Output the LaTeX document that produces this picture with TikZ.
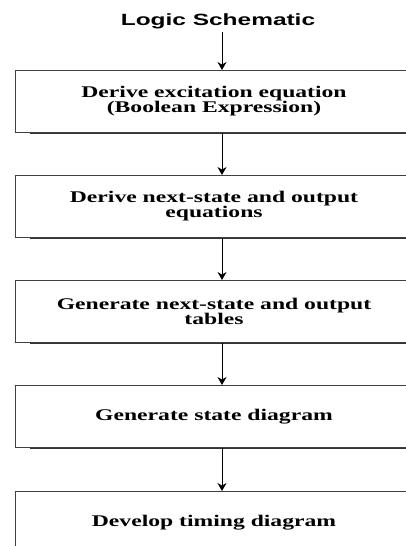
\documentclass[tikz,border=0pt]{standalone}
\usepackage{fontspec}
\setmainfont{Liberation Serif}
\newfontfamily\stepfont[FakeStretch=1.45]{Liberation Serif}
\newfontfamily\headfont[FakeStretch=1.5]{Liberation Sans}
\usetikzlibrary{arrows.meta}
\begin{document}
\begin{tikzpicture}[x=1pt,y=1pt,
  stepbox/.style={draw=black!75, line width=0.9pt, minimum width=398pt,
    minimum height=62pt, anchor=north, align=center,
    font=\stepfont\bfseries\fontsize{16.3}{15}\selectfont},
  shadowline/.style={line width=1.1pt, draw=black!80},
  flow/.style={line width=0.9pt, -{Stealth[length=8pt,width=9pt]}}]
\useasboundingbox (0,0) rectangle (405,-546);

% title
\node[font=\headfont\bfseries\fontsize{16.3}{18}\selectfont] (title) at (218,-21) {Logic Schematic};

% process steps
\node[stepbox] (b1) at (214,-70)  {Derive excitation equation\\(Boolean Expression)};
\node[stepbox] (b2) at (214,-175) {Derive next-state and output\\equations};
\node[stepbox] (b3) at (214,-280) {Generate next-state and output\\tables};
\node[stepbox] (b4) at (214,-385) {Generate state diagram};
\node[stepbox] (b5) at (214,-491) {Develop timing diagram};

% heavier lower edges
\foreach \b in {b1,b2,b3,b4}
  \draw[shadowline] ([xshift=15pt,yshift=-0.8pt]\b.south west) -- ([yshift=-0.8pt]\b.south east);

% connectors
\draw[flow] ([xshift=4pt]title.south) -- ([xshift=8pt]b1.north);
\draw[flow] ([xshift=8pt]b1.south) -- ([xshift=8pt]b2.north);
\draw[flow] ([xshift=8pt]b2.south) -- ([xshift=8pt]b3.north);
\draw[flow] ([xshift=8pt]b3.south) -- ([xshift=8pt]b4.north);
\draw[flow] ([xshift=8pt]b4.south) -- ([xshift=8pt]b5.north);
\end{tikzpicture}
\end{document}
